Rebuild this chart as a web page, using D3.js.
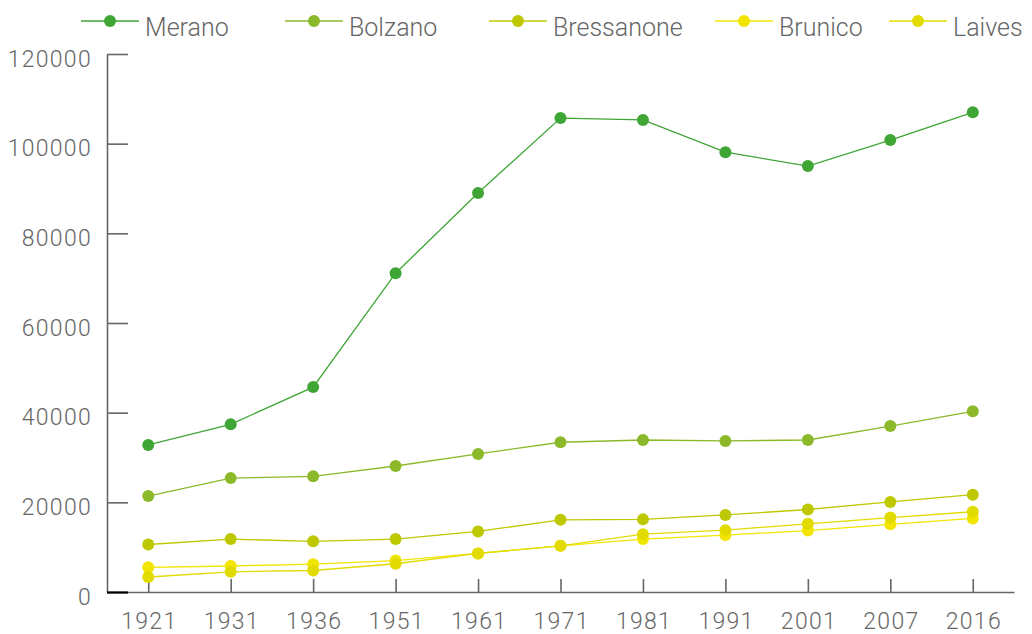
<!DOCTYPE html>
<html>
<head>
<meta charset="utf-8">
<script src="https://cdn.jsdelivr.net/npm/d3@7"></script>
<style>
  html, body { margin: 0; padding: 0; background: #fff; }
  svg text { font-family: "Helvetica Neue", Roboto, "Liberation Sans", sans-serif; font-weight: 300; fill: #666; }
</style>
</head>
<body>
<svg id="chart" width="1032" height="634"></svg>
<script>
const years = ["1921","1931","1936","1951","1961","1971","1981","1991","2001","2007","2016"];
const seriesNames = ["Merano","Bolzano","Bressanone","Brunico","Laives"];
const seriesColors = ["#3fa535","#8cb92a","#bec800","#f2e500","#e2db00"];
const merano     = [32800, 37400, 45700, 71100, 89000, 105700, 105300, 98100, 95000, 100800, 107000];
const bolzano    = [21400, 25400, 25800, 28100, 30800, 33400, 33900, 33700, 33900, 37000, 40300];
const bressanone = [10600, 11800, 11300, 11800, 13500, 16100, 16200, 17200, 18400, 20100, 21700];
const brunico    = [5500, 5800, 6200, 7000, 8600, 10300, 11800, 12700, 13700, 15100, 16400];
const laives     = [3350, 4500, 4800, 6300, 8600, 10300, 12900, 13800, 15200, 16600, 17900];
const yTicks = [0, 20000, 40000, 60000, 80000, 100000, 120000];
const seriesValues = [merano, bolzano, bressanone, brunico, laives];

const svg = d3.select("#chart");
const x = d3.scalePoint().domain(years).range([107, 1014]).padding(0.5);
const y = d3.scaleLinear().domain([0, 120000]).range([592, 54]);

// Y axis
const yAxis = svg.append("g").attr("transform", "translate(107,0)")
  .call(d3.axisLeft(y).tickValues(yTicks).tickFormat(d3.format("d")).tickSizeInner(-21).tickSizeOuter(0).tickPadding(15));
yAxis.select(".domain").attr("stroke", "#666").attr("stroke-width", 1.6);
yAxis.selectAll(".tick line").attr("stroke", d => d === 0 ? "#000" : "#666").attr("stroke-width", d => d === 0 ? 2.2 : 1.6);
yAxis.selectAll(".tick text").attr("dy", "0.62em").attr("y", -2)
  .style("font-size", "23px").style("letter-spacing", "1.3px").attr("fill", "#666");

// X axis
const xAxis = svg.append("g").attr("transform", "translate(0,592)")
  .call(d3.axisBottom(x).tickSizeInner(-13).tickSizeOuter(0).tickPadding(21));
xAxis.select(".domain").attr("stroke", "#666").attr("stroke-width", 1.6);
xAxis.selectAll(".tick line").attr("stroke", "#666").attr("stroke-width", 1.6);
xAxis.selectAll(".tick text").style("font-size", "23px").style("letter-spacing", "1.3px")
  .attr("dx", "0.6px").attr("fill", "#666");
// redraw 0 tick on top
yAxis.raise();

// Lines and points
const line = d3.line().x((d, i) => x(years[i])).y(d => y(d));
seriesValues.forEach((vals, si) => {
  const g = svg.append("g");
  g.append("path").datum(vals).attr("d", line).attr("fill", "none")
    .attr("stroke", seriesColors[si]).attr("stroke-width", 1.3);
  g.selectAll("circle").data(vals).join("circle")
    .attr("cx", (d, i) => x(years[i])).attr("cy", d => y(d)).attr("r", 6)
    .attr("fill", seriesColors[si]);
});

// Legend
const legendX = [81, 285, 489, 715, 889];
const leg = svg.append("g");
seriesNames.forEach((name, i) => {
  const lx = legendX[i];
  leg.append("line").attr("x1", lx).attr("x2", lx + 58).attr("y1", 21).attr("y2", 21)
    .attr("stroke", seriesColors[i]).attr("stroke-width", 1.5);
  leg.append("circle").attr("cx", lx + 29).attr("cy", 21).attr("r", 6).attr("fill", seriesColors[i]);
  leg.append("text").attr("x", lx + 64).attr("y", 36).text(name).style("font-size", "25px");
});
</script>
</body>
</html>
